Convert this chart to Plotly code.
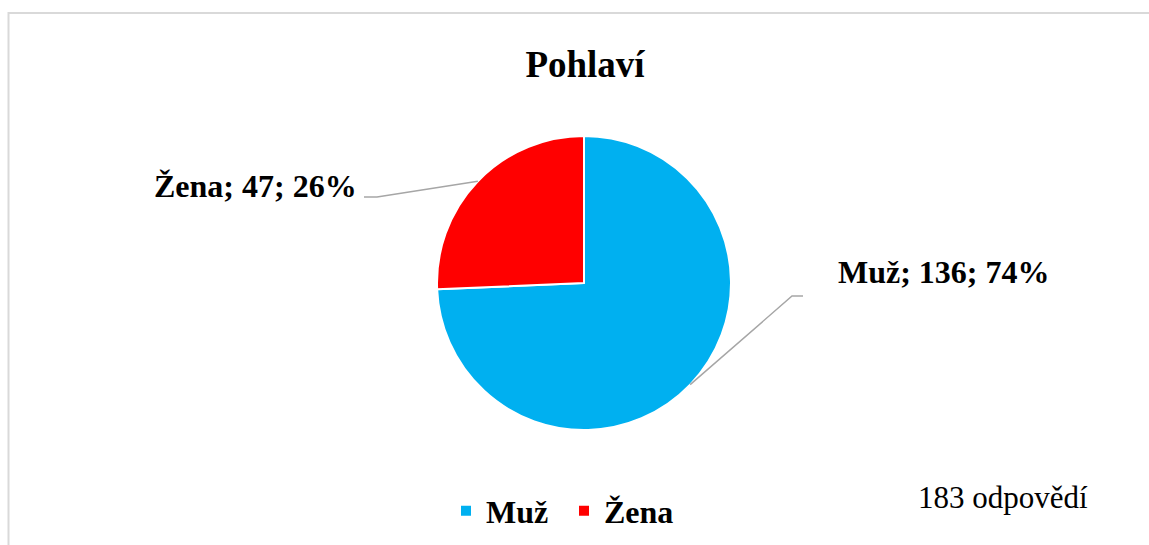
import math
import plotly.graph_objects as go

# ---- data ----
categories = ["Muž", "Žena"]
counts = [136, 47]
colors = ["#00B0F0", "#FF0000"]
title_text = "Pohlaví"
note_text = "183 odpovědí"

# ---- layout constants (pixels) ----
W, H = 1149, 545
CX, CY, R = 584, 283, 147
FONT = "Liberation Serif, Times New Roman, serif"

def px(x):
    return x / W

def py(y):
    return (H - y) / H

total = sum(counts)
pcts = [round(100 * c / total) for c in counts]

fig = go.Figure(go.Pie(
    labels=categories,
    values=counts,
    marker=dict(colors=colors, line=dict(color="white", width=2)),
    sort=False,
    direction="clockwise",
    rotation=0,
    textinfo="none",
    hoverinfo="label+value+percent",
    domain=dict(x=[px(CX - R), px(CX + R)], y=[py(CY + R), py(CY - R)]),
))

# slice mid angles (clockwise from 12 o'clock) -> leader line anchors on the rim
anchors = []
cum = 0
for c in counts:
    mid = (cum + c / 2) / total * 2 * math.pi
    anchors.append((CX + R * math.sin(mid), CY - R * math.cos(mid)))
    cum += c

label_cfg = {
    "Muž": dict(bend=(792, 296), end=(803, 296), tx=836, ty=272, xanchor="left"),
    "Žena": dict(bend=(377, 197), end=(364, 197), tx=359, ty=186, xanchor="right"),
}

shapes = [
    dict(type="rect", xref="paper", yref="paper",
         x0=px(8.5), x1=1.05, y0=-0.05, y1=py(13),
         line=dict(color="#D9D9D9", width=2), fillcolor="rgba(0,0,0,0)", layer="below"),
]
annotations = []
for name, cnt, pct, (ax, ay) in zip(categories, counts, pcts, anchors):
    cfg = label_cfg[name]
    bx, by = cfg["bend"]
    ex, ey = cfg["end"]
    shapes.append(dict(
        type="path", xref="paper", yref="paper",
        path=f"M {px(ax)} {py(ay)} L {px(bx)} {py(by)} L {px(ex)} {py(ey)}",
        line=dict(color="#A6A6A6", width=1.5),
    ))
    annotations.append(dict(
        xref="paper", yref="paper", x=px(cfg["tx"]), y=py(cfg["ty"]),
        xanchor=cfg["xanchor"], yanchor="middle", showarrow=False,
        text=f"<b>{name}; {cnt}; {pct}%</b>",
        font=dict(family=FONT, size=32, color="black"),
    ))

annotations.append(dict(
    xref="paper", yref="paper", x=px(916), y=py(498),
    xanchor="left", yanchor="middle", showarrow=False,
    text=note_text, font=dict(family=FONT, size=31, color="black"),
))

fig.update_layout(
    width=W, height=H,
    margin=dict(l=0, r=0, t=0, b=0),
    paper_bgcolor="white",
    plot_bgcolor="white",
    title=dict(text=f"<b>{title_text}</b>", x=px(585), xanchor="center",
               y=py(64), yanchor="middle",
               font=dict(family=FONT, size=37, color="black")),
    showlegend=True,
    legend=dict(orientation="h", x=px(446), xanchor="left", y=py(511), yanchor="middle",
                font=dict(family=FONT, size=32, color="black", weight="bold"),
                entrywidth=73, entrywidthmode="pixels",
                bgcolor="rgba(0,0,0,0)"),
    shapes=shapes,
    annotations=annotations,
)

fig.write_html("out.html", config={"displayModeBar": False},
               post_script="document.body.style.margin='0';document.body.style.overflow='hidden';")
